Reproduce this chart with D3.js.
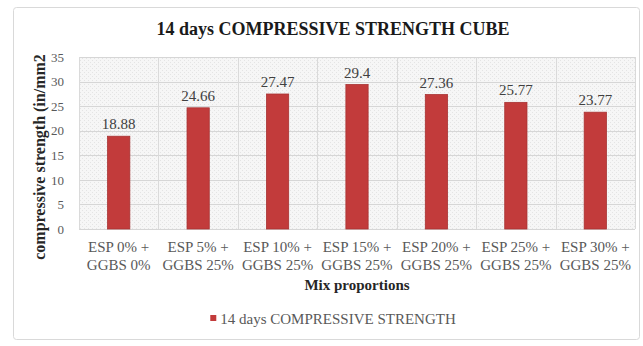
<!DOCTYPE html>
<html>
<head>
<meta charset="utf-8">
<script src="https://cdn.jsdelivr.net/npm/d3@7"></script>
<style>
  html, body { margin: 0; padding: 0; background: #fff; }
  svg { display: block; }
</style>
</head>
<body>
<script>
// Mix proportions (two-line category labels) and 14-day cube strengths
const categories = [
  ["ESP 0% +", "GGBS 0%"],
  ["ESP 5% +", "GGBS 25%"],
  ["ESP 10% +", "GGBS 25%"],
  ["ESP 15% +", "GGBS 25%"],
  ["ESP 20% +", "GGBS 25%"],
  ["ESP 25% +", "GGBS 25%"],
  ["ESP 30% +", "GGBS 25%"]
];
const strength = [18.88, 24.66, 27.47, 29.4, 27.36, 25.77, 23.77];
const yTicks = [0, 5, 10, 15, 20, 25, 30, 35];
const seriesName = "14 days COMPRESSIVE STRENGTH";
const chartTitle = "14 days COMPRESSIVE STRENGTH CUBE";
const yTitle = "compressive strength (in/mm2";
const xTitle = "Mix proportions";

const FONT = "Liberation Serif";
const W = 643, H = 346;
const plot = { left: 79, right: 635, top: 57, bottom: 229 };

const svg = d3.select("body").append("svg")
  .attr("width", W).attr("height", H)
  .attr("font-family", FONT);

// chart frame
svg.append("rect")
  .attr("x", 13.5).attr("y", 7.5).attr("width", 626).attr("height", 332)
  .attr("rx", 3).attr("fill", "#fff").attr("stroke", "#d9d9d9");

// faint dotted plot-area fill
const defs = svg.append("defs");
const pat = defs.append("pattern").attr("id", "dots")
  .attr("width", 4).attr("height", 4).attr("patternUnits", "userSpaceOnUse");
pat.append("rect").attr("width", 4).attr("height", 4).attr("fill", "#f6f6f6");
pat.append("rect").attr("x", 0).attr("y", 0).attr("width", 1).attr("height", 1).attr("fill", "#e4e4e4");
pat.append("rect").attr("x", 2).attr("y", 2).attr("width", 1).attr("height", 1).attr("fill", "#e4e4e4");

const names = categories.map(c => c.join(" "));
const x = d3.scaleBand().domain(names).range([plot.left, plot.right]).paddingInner(0.72).paddingOuter(0.36);
const xEdges = d3.scaleBand().domain(names).range([plot.left, plot.right]).padding(0);
const y = d3.scaleLinear().domain([0, 35]).range([plot.bottom, plot.top]);

svg.append("rect")
  .attr("x", plot.left).attr("y", plot.top)
  .attr("width", plot.right - plot.left).attr("height", plot.bottom - plot.top)
  .attr("fill", "url(#dots)");

// horizontal gridlines
svg.append("g").selectAll("line").data(yTicks).join("line")
  .attr("x1", plot.left).attr("x2", plot.right)
  .attr("y1", d => Math.round(y(d)) + 0.5).attr("y2", d => Math.round(y(d)) + 0.5)
  .attr("stroke", "#d6d6d6");

// vertical gridlines at category boundaries
const edges = names.map(n => xEdges(n)).concat([plot.right]);
svg.append("g").selectAll("line").data(edges).join("line")
  .attr("x1", d => Math.round(d) + 0.5).attr("x2", d => Math.round(d) + 0.5)
  .attr("y1", plot.top).attr("y2", plot.bottom)
  .attr("stroke", "#dadada");

// y axis tick labels
const yAxis = d3.axisLeft(y).tickValues(yTicks).tickSize(0).tickPadding(0);
const gy = svg.append("g").attr("transform", `translate(${plot.left - 15},0)`).call(yAxis);
gy.attr("font-family", FONT).attr("font-size", 13);
gy.select(".domain").remove();
gy.selectAll("text").attr("font-family", FONT).attr("fill", "#595959");

// bars
svg.append("g").selectAll("rect").data(strength).join("rect")
  .attr("x", (d, i) => x(names[i]))
  .attr("width", x.bandwidth())
  .attr("y", d => y(d))
  .attr("height", d => y(0) - y(d))
  .attr("fill", "#c23b3b")
  .attr("stroke", "#a83232").attr("stroke-width", 0.8);

// value labels
svg.append("g").selectAll("text").data(strength).join("text")
  .attr("x", (d, i) => x(names[i]) + x.bandwidth() / 2)
  .attr("y", d => y(d) - 7)
  .attr("text-anchor", "middle")
  .attr("font-family", FONT)
  .attr("font-size", 15).attr("fill", "#404040")
  .text(d => d);

// category labels (two lines)
const xl = svg.append("g").selectAll("text").data(categories).join("text")
  .attr("text-anchor", "middle")
  .attr("font-family", FONT)
  .attr("font-size", 15).attr("fill", "#595959");
xl.each(function (c, i) {
  const cx = xEdges(names[i]) + xEdges.bandwidth() / 2;
  d3.select(this).selectAll("tspan").data(c).join("tspan")
    .attr("x", cx)
    .attr("y", (d, j) => 252 + j * 18)
    .text(d => d);
});

// axis titles
svg.append("text")
  .attr("x", (plot.left + plot.right) / 2).attr("y", 290)
  .attr("text-anchor", "middle").attr("font-family", FONT)
  .attr("font-size", 15).attr("font-weight", "bold")
  .attr("fill", "#262626").text(xTitle);

svg.append("text")
  .attr("transform", `translate(45,157) rotate(-90)`)
  .attr("text-anchor", "middle").attr("font-family", FONT)
  .attr("font-size", 16).attr("font-weight", "bold")
  .attr("fill", "#262626").text(yTitle);

// chart title
svg.append("text")
  .attr("x", 333).attr("y", 35)
  .attr("text-anchor", "middle").attr("font-family", FONT)
  .attr("font-size", 18).attr("font-weight", "bold")
  .attr("fill", "#1a1a1a").text(chartTitle);

// legend
const lg = svg.append("g").attr("transform", "translate(333,324)");
const lt = lg.append("text").attr("x", 5).attr("y", 0)
  .attr("text-anchor", "middle").attr("font-family", FONT)
  .attr("font-size", 15).attr("fill", "#595959")
  .text(seriesName);
const tw = lt.node().getComputedTextLength();
lg.append("rect")
  .attr("x", 5 - tw / 2 - 10).attr("y", -9).attr("width", 6).attr("height", 6)
  .attr("fill", "#c23b3b");
</script>
</body>
</html>
